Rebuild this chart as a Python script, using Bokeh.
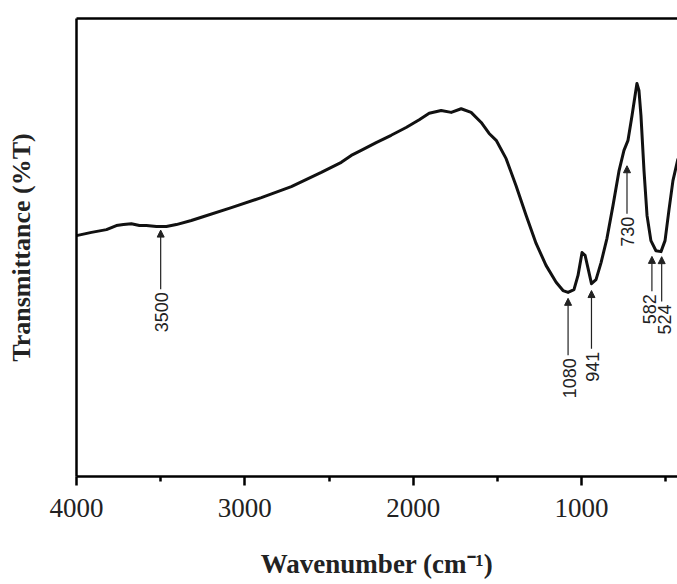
import numpy as np
from bokeh.plotting import figure
from bokeh.models import Range1d, LinearAxis, Arrow, NormalHead, FixedTicker, Label
from bokeh.embed import file_html
from bokeh.resources import INLINE

# FTIR spectrum
wavenumber = [4000, 3911, 3822, 3763, 3721, 3674, 3626, 3585, 3525, 3466, 3407, 3318,
              3258, 3080, 2902, 2724, 2546, 2427, 2368, 2309, 2220, 2131, 2042, 1964,
              1905, 1834, 1774, 1715, 1656, 1596, 1549, 1507, 1448, 1389, 1329, 1270,
              1211, 1151, 1110, 1080, 1045, 1021, 997, 979, 961, 941, 914, 884, 849,
              813, 777, 748, 724, 700, 682, 671, 659, 647, 629, 611, 588, 558, 528,
              504, 481, 457, 427]
transmittance = [52.6, 53.3, 53.9, 54.8, 55.0, 55.2, 54.8, 54.8, 54.6, 54.6, 55.0, 55.9,
                 56.6, 58.7, 60.9, 63.3, 66.4, 68.6, 70.1, 71.2, 72.9, 74.5, 76.2, 77.9,
                 79.3, 79.9, 79.5, 80.3, 79.5, 77.3, 74.9, 73.4, 69.4, 63.5, 57.0, 50.9,
                 46.1, 42.4, 40.6, 40.2, 40.8, 43.9, 48.9, 48.3, 45.4, 42.1, 43.0, 46.7,
                 52.0, 59.2, 66.8, 71.2, 73.4, 78.8, 83.2, 85.8, 84.3, 78.8, 66.8, 57.0,
                 51.5, 49.3, 49.1, 51.5, 58.1, 64.6, 69.4]

peak_labels = ["3500", "1080", "941", "730", "582", "524"]
peak_wavenumbers = [3500, 1080, 941, 730, 582, 524]

x_ticks = [4000, 3000, 2000, 1000]
x_minor_ticks = [3500, 2500, 1500, 500]

# annotation layout (not data)
arrow_gap = [0.8, 1.3, 1.5, 5.0, 3.0, 1.5]
arrow_len = [12.9, 12.4, 12.7, 10.5, 7.6, 9.8]
label_dx = [1, 1, 1, 1, -2, 3]

serif = "Liberation Serif"

p = figure(width=677, height=584, x_range=Range1d(4000, 430), y_range=Range1d(0, 100),
           output_backend="svg", toolbar_location=None,
           min_border_left=76, min_border_right=0, min_border_top=18, min_border_bottom=108)
p.outline_line_color = None
p.xgrid.visible = False
p.ygrid.visible = False
p.background_fill_color = "white"
p.border_fill_color = "white"

xa = p.xaxis[0]
xa.ticker = FixedTicker(ticks=x_ticks, minor_ticks=x_minor_ticks)
xa.axis_line_width = 2.5
xa.axis_line_color = "black"
xa.major_tick_line_width = 2.5
xa.major_tick_in = 0
xa.major_tick_out = 9
xa.minor_tick_line_width = 2.5
xa.minor_tick_in = 0
xa.minor_tick_out = 5
xa.major_label_text_font = serif
xa.major_label_text_font_size = "27px"
xa.major_label_text_color = "#222222"
xa.major_label_standoff = 13
xa.axis_label = "Wavenumber (cm\u207b\u00b9)"
xa.axis_label_text_font = serif
xa.axis_label_text_font_style = "bold"
xa.axis_label_text_font_size = "27px"
xa.axis_label_text_color = "#222222"
xa.axis_label_standoff = 29

ya = p.yaxis[0]
ya.ticker = FixedTicker(ticks=[])
ya.axis_line_width = 2.5
ya.axis_line_color = "black"
ya.major_tick_line_color = None
ya.minor_tick_line_color = None
ya.major_label_text_font_size = "0px"
ya.axis_label = "Transmittance (%T)"
ya.axis_label_text_font = serif
ya.axis_label_text_font_style = "bold"
ya.axis_label_text_font_size = "26px"
ya.axis_label_text_color = "#222222"
ya.axis_label_standoff = 41

top = LinearAxis(ticker=FixedTicker(ticks=[]), axis_line_width=2.5, axis_line_color="black",
                 major_tick_line_color=None, minor_tick_line_color=None,
                 major_label_text_font_size="0px")
p.add_layout(top, "above")

p.line(wavenumber, transmittance, line_width=3, line_color="#111111", line_join="round")

wv_inc = np.array(wavenumber[::-1], dtype=float)
tr_inc = np.array(transmittance[::-1], dtype=float)
for lab, w, g, L, dx in zip(peak_labels, peak_wavenumbers, arrow_gap, arrow_len, label_dx):
    tip = float(np.interp(w, wv_inc, tr_inc)) - g
    tail = tip - L
    p.add_layout(Arrow(end=NormalHead(size=7, fill_color="#222222", line_color="#222222"),
                       x_start=w, y_start=tail, x_end=w, y_end=tip,
                       line_width=1.2, line_color="#222222"))
    p.add_layout(Label(x=w, y=tail, x_offset=dx, y_offset=-3, text=lab, angle=90,
                       angle_units="deg", text_align="right", text_baseline="middle",
                       text_font="Liberation Sans", text_font_size="18px",
                       text_color="#222222"))

open("out.html", "w").write(file_html(p, INLINE))
